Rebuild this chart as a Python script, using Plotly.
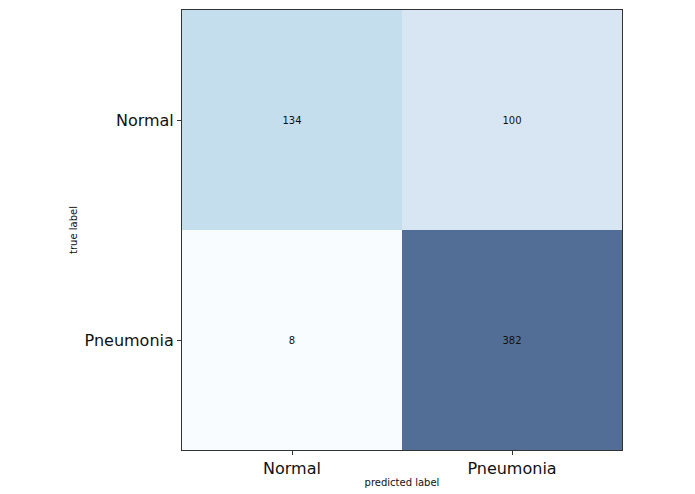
import plotly.graph_objects as go

labels = ["Normal", "Pneumonia"]
matrix = [[134, 100],
          [8, 382]]

blues = ["#f7fbff", "#deebf7", "#c6dbef", "#9ecae1", "#6baed6",
         "#4292c6", "#2171b5", "#08519c", "#08306b"]
alpha = 0.7


def blend(h):
    r, g, b = int(h[1:3], 16), int(h[3:5], 16), int(h[5:7], 16)
    f = lambda c: round(alpha * c + (1 - alpha) * 255)
    return f"rgb({f(r)},{f(g)},{f(b)})"


colorscale = [[i / (len(blues) - 1), blend(c)] for i, c in enumerate(blues)]

fig = go.Figure(go.Heatmap(
    z=matrix, x=labels, y=labels,
    colorscale=colorscale, showscale=False,
    text=[[str(v) for v in row] for row in matrix],
    texttemplate="%{text}",
    textfont=dict(family="DejaVu Sans", size=10, color="#111111"),
    xgap=0, ygap=0,
))

fig.update_layout(
    width=695, height=494,
    margin=dict(l=174, r=81, t=2, b=52),
    paper_bgcolor="white", plot_bgcolor="white",
    font=dict(family="DejaVu Sans", color="#111111"),
)
fig.update_xaxes(
    title=dict(text="predicted label", font=dict(size=10), standoff=1),
    tickfont=dict(size=16), ticks="outside", ticklen=4, tickcolor="#333",
    showline=True, linecolor="#333", linewidth=1, mirror=True,
    showgrid=False, zeroline=False,
)
fig.update_yaxes(
    title=dict(text="true label", font=dict(size=10), standoff=5),
    tickfont=dict(size=16), ticks="outside", ticklen=4, tickcolor="#333",
    showline=True, linecolor="#333", linewidth=1, mirror=True,
    showgrid=False, zeroline=False, autorange="reversed",
)

fig.write_html("out.html")
